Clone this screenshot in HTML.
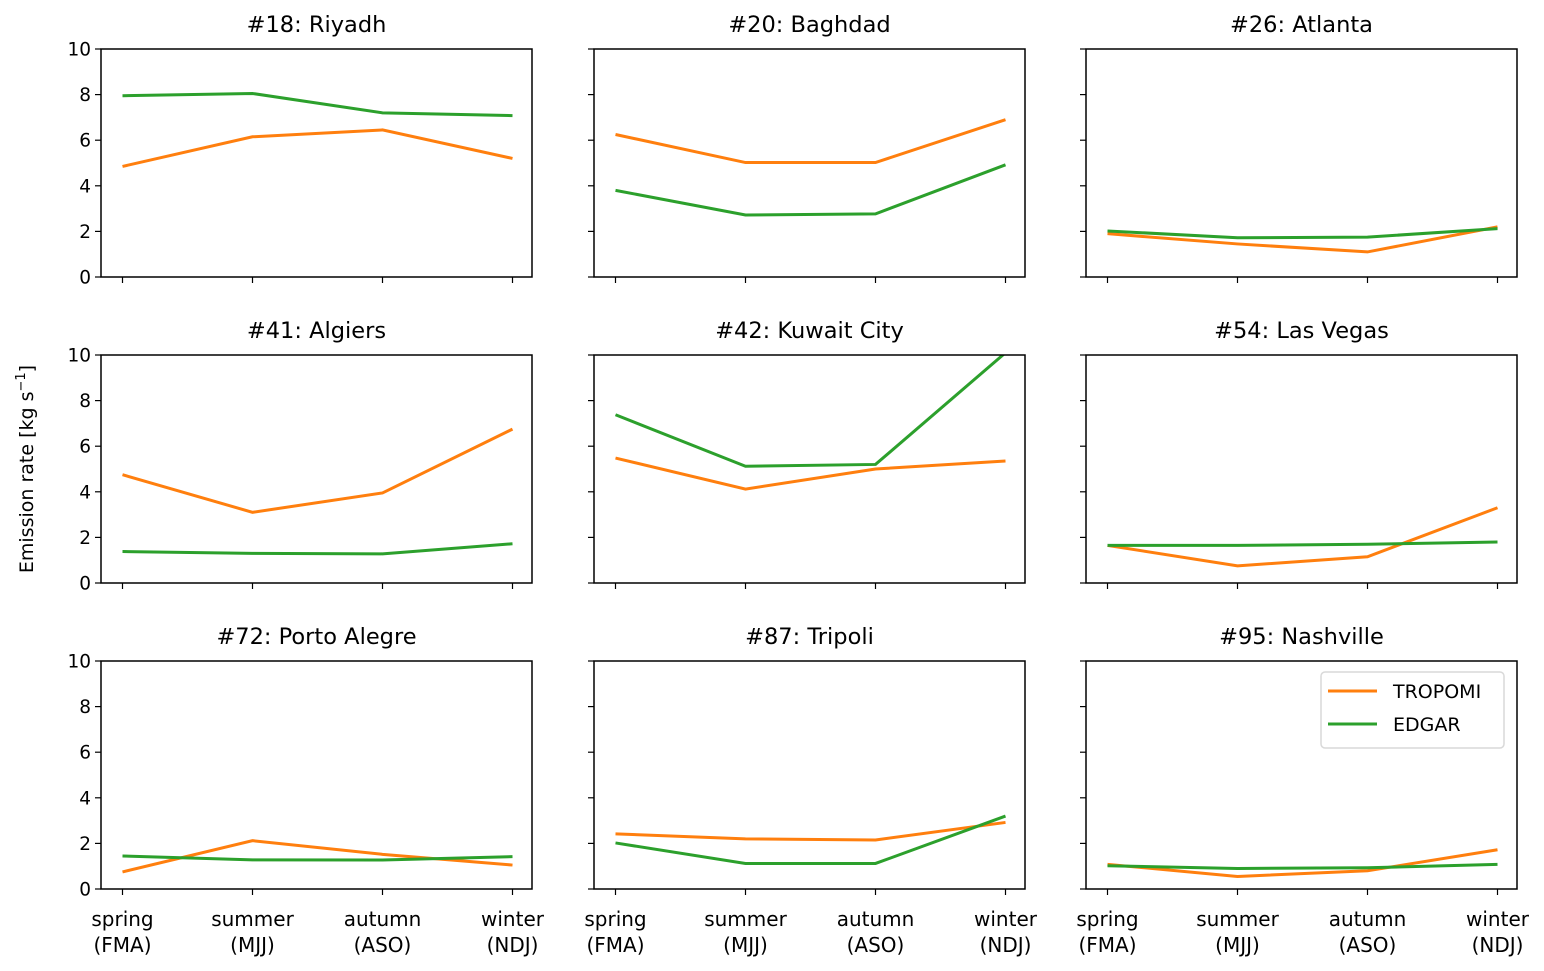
<!DOCTYPE html>
<html><head><meta charset="utf-8"><style>
body{margin:0;background:#fff}
svg{display:block;font-family:"DejaVu Sans","Liberation Sans",sans-serif}
</style></head><body>
<svg id="chart" width="1544" height="971" viewBox="0 0 1544 971"></svg>
<script>
const seasons=["spring\n(FMA)","summer\n(MJJ)","autumn\n(ASO)","winter\n(NDJ)"];
const cities=["#18: Riyadh","#20: Baghdad","#26: Atlanta","#41: Algiers","#42: Kuwait City","#54: Las Vegas","#72: Porto Alegre","#87: Tripoli","#95: Nashville"];
const tropomi=[[4.85,6.15,6.45,5.2],[6.25,5.02,5.02,6.9],[1.9,1.45,1.1,2.2],[4.75,3.1,3.95,6.75],[5.48,4.12,5.0,5.35],[1.65,0.75,1.15,3.3],[0.75,2.12,1.52,1.05],[2.42,2.2,2.15,2.92],[1.08,0.55,0.8,1.72]];
const edgar=[[7.95,8.05,7.2,7.08],[3.8,2.72,2.77,4.92],[2.02,1.72,1.75,2.12],[1.38,1.3,1.28,1.72],[7.38,5.12,5.2,10.1],[1.65,1.65,1.7,1.8],[1.45,1.28,1.27,1.42],[2.02,1.12,1.12,3.2],[1.02,0.9,0.93,1.08]];
const yTicks=[0,2,4,6,8,10];
const NS="http://www.w3.org/2000/svg";
const svg=document.getElementById('chart');
function mk(t,a,p){const e=document.createElementNS(NS,t);for(const k in a)e.setAttribute(k,a[k]);(p||svg).appendChild(e);return e;}
const colX=[101,594,1086],rowY=[49,355,661],W=431,H=228;
const defs=mk('defs',{});
cities.forEach((c,i)=>{
  const col=i%3,row=Math.floor(i/3),L=colX[col],T=rowY[row];
  const g=mk('g',{});
  
  
  const cp=mk('clipPath',{id:'cp'+i},defs);mk('rect',{x:L,y:T,width:W,height:H},cp);
  const xs=k=>L+21.5+k*130;
  const ys=v=>T+H-v/10*H;
  const tt=mk('text',{x:L+W/2,y:T-17,'text-anchor':'middle','font-size':22.5},g);tt.textContent=c;
  
  yTicks.forEach(v=>{
    mk('line',{x1:L-6,x2:L,y1:ys(v),y2:ys(v),stroke:'#000','stroke-width':1.2},g);
    if(col===0){const t=mk('text',{x:L-10,y:ys(v)+6.5,'text-anchor':'end','font-size':18.5},g);t.textContent=v;
      }
  });
  seasons.forEach((s,k)=>{
    mk('line',{x1:xs(k),x2:xs(k),y1:T+H,y2:T+H+6,stroke:'#000','stroke-width':1.2},g);
    if(row===2){const lines=s.split('\n');lines.forEach((ln,j)=>{
      const t=mk('text',{x:xs(k),y:T+H+37+j*26,'text-anchor':'middle','font-size':20},g);t.textContent=ln;
      });}
  });
  [[tropomi[i],'#ff7f0e','tropomi'],[edgar[i],'#2ca02c','edgar']].forEach(([d,clr,n])=>{
    const p=mk('polyline',{points:d.map((v,k)=>xs(k)+','+ys(v)).join(' '),fill:'none',stroke:clr,'stroke-width':3,'clip-path':'url(#cp'+i+')'},g);
    
  });
  mk('rect',{x:L,y:T,width:W,height:H,fill:'none',stroke:'#000','stroke-width':1.5},g);
});
const yl=mk('text',{transform:'translate(33,469) rotate(-90)','text-anchor':'middle','font-size':19});
yl.innerHTML='Emission rate [kg s<tspan dy="-8" font-size="13">−1</tspan><tspan dy="8">]</tspan>';

const lg=mk('g',{});

mk('rect',{x:1321,y:672,width:183,height:76,rx:4,fill:'#fff',stroke:'#d9d9d9','stroke-width':1.5},lg);
[['TROPOMI','#ff7f0e',691],['EDGAR','#2ca02c',724]].forEach(([n,c,y])=>{
  mk('line',{x1:1328,x2:1377,y1:y,y2:y,stroke:c,'stroke-width':3},lg);
  const t=mk('text',{x:1393,y:y+7,'font-size':19},lg);t.textContent=n;
  
});
</script>
</body></html>
